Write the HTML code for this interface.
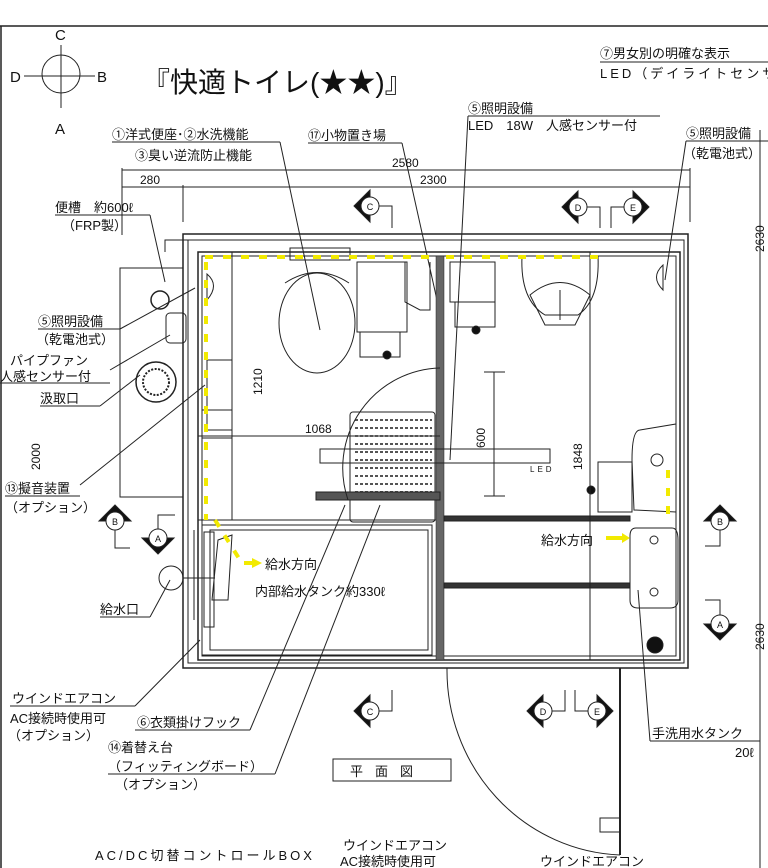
<!DOCTYPE html>
<html><head><meta charset="utf-8"><style>
html,body{margin:0;padding:0;background:#fff;}
svg{display:block;}
text{font-family:"Liberation Sans","Noto Sans CJK JP",sans-serif;fill:#111;}
</style></head><body>
<svg width="768" height="868" viewBox="0 0 768 868" xmlns="http://www.w3.org/2000/svg">
<g stroke="#222" fill="none" stroke-width="1">
<line x1="0" y1="26" x2="768" y2="26" stroke-width="1.5"/>
<line x1="1" y1="26" x2="1" y2="868" stroke-width="1.5"/>
<circle cx="61" cy="74" r="19"/>
<line x1="61" y1="45" x2="61" y2="108"/>
<line x1="24" y1="76" x2="95" y2="76"/>
<line x1="122" y1="170" x2="690" y2="170"/>
<line x1="122" y1="187" x2="690" y2="187"/>
<line x1="122" y1="168" x2="122" y2="235"/>
<line x1="183" y1="185" x2="183" y2="222"/>
<line x1="690" y1="168" x2="690" y2="222"/>
<line x1="760" y1="130" x2="760" y2="868"/>
<line x1="600" y1="62" x2="768" y2="62"/>
<line x1="468" y1="116" x2="660" y2="116"/>
<line x1="112" y1="142" x2="280" y2="142"/>
<line x1="308" y1="143" x2="402" y2="143"/>
<line x1="686" y1="141" x2="768" y2="141"/>
<line x1="55" y1="215" x2="150" y2="215"/>
<line x1="38" y1="329" x2="120" y2="329"/>
<line x1="0" y1="383" x2="110" y2="383"/>
<line x1="40" y1="406" x2="100" y2="406"/>
<line x1="5" y1="496" x2="80" y2="496"/>
<line x1="100" y1="617" x2="150" y2="617"/>
<line x1="10" y1="706" x2="135" y2="706"/>
<line x1="135" y1="730" x2="250" y2="730"/>
<line x1="108" y1="774" x2="275" y2="774"/>
<line x1="650" y1="741" x2="760" y2="741"/>
<line x1="280" y1="142" x2="320" y2="330"/>
<line x1="402" y1="143" x2="437" y2="300"/>
<line x1="468" y1="116" x2="450" y2="460"/>
<line x1="686" y1="141" x2="665" y2="280"/>
<line x1="150" y1="215" x2="165" y2="282"/>
<line x1="120" y1="329" x2="195" y2="288"/>
<line x1="110" y1="370" x2="170" y2="335"/>
<line x1="100" y1="406" x2="140" y2="375"/>
<line x1="80" y1="485" x2="205" y2="385"/>
<line x1="150" y1="617" x2="170" y2="580"/>
<line x1="135" y1="706" x2="200" y2="640"/>
<line x1="250" y1="730" x2="345" y2="505"/>
<line x1="275" y1="774" x2="380" y2="505"/>
<line x1="650" y1="741" x2="638" y2="590"/>
<rect x="120" y="268" width="63" height="229"/>
<circle cx="160" cy="300" r="9" stroke-width="1.5"/>
<circle cx="156" cy="382" r="20" stroke-width="1.5"/>
<circle cx="156" cy="382" r="13" stroke-dasharray="2 1.5" stroke-width="2"/>
<rect x="166" y="313" width="20" height="30" rx="4"/>
<polyline points="165,252 165,240 190,240"/>
<rect x="183" y="234" width="505" height="434" stroke-width="1.5"/>
<rect x="188" y="240" width="496" height="423"/>
<rect x="198" y="252" width="482" height="408" stroke-width="1.5"/>
<rect x="202" y="256" width="474" height="400"/>
<rect x="436" y="256" width="8" height="404" fill="#666" stroke-width="0.5"/>
<line x1="198" y1="520" x2="436" y2="520"/>
<rect x="444" y="516" width="186" height="5" fill="#333"/>
<rect x="444" y="583" width="186" height="5" fill="#333"/>
<rect x="202" y="525" width="230" height="130"/>
<rect x="210" y="530" width="218" height="120"/>
<path d="M218 540 L232 535 L228 600 L212 600 Z" />
<rect x="204" y="532" width="10" height="95"/>
<rect x="290" y="248" width="60" height="12"/>
<ellipse cx="317" cy="323" rx="38" ry="50"/>
<path d="M285 283 Q317 262 349 283"/>
<rect x="357" y="262" width="50" height="70"/>
<rect x="360" y="332" width="40" height="25"/>
<circle cx="387" cy="355" r="4" fill="#111"/>
<path d="M405 262 L405 302 L420 310 L430 310 L430 262"/>
<rect x="450" y="262" width="45" height="40"/>
<rect x="455" y="302" width="40" height="25"/>
<circle cx="476" cy="330" r="4" fill="#111"/>
<path d="M522 256 Q520 300 545 315 L578 315 Q600 300 598 256"/>
<path d="M530 295 Q560 270 590 295 L575 325 L545 325 Z"/>
<line x1="560" y1="290" x2="560" y2="320"/>
<path d="M663 265 Q650 277 663 290 Z"/>
<path d="M207 274 Q220 285 207 300 Z"/>
<rect x="207" y="360" width="25" height="70"/>
<rect x="202" y="410" width="30" height="28"/>
<path d="M640 430 Q632 430 632 460 L634 510 L676 512 L676 424 Z"/>
<circle cx="657" cy="460" r="6"/>
<rect x="598" y="462" width="34" height="50"/>
<circle cx="591" cy="490" r="4" fill="#111"/>
<path d="M636 528 L672 528 Q678 528 678 540 L678 600 Q678 608 670 608 L638 608 Q630 608 630 600 L630 536 Q630 528 636 528 Z"/>
<circle cx="654" cy="540" r="4"/>
<circle cx="654" cy="592" r="4"/>
<circle cx="655" cy="645" r="8" fill="#111"/>
<line x1="232" y1="252" x2="232" y2="520"/>
<line x1="198" y1="436" x2="440" y2="436"/>
<line x1="494" y1="372" x2="494" y2="496"/>
<line x1="484" y1="372" x2="505" y2="372"/>
<line x1="484" y1="496" x2="505" y2="496"/>
<line x1="590" y1="252" x2="590" y2="660"/>
<rect x="350" y="412" width="85" height="110" rx="3"/>
<g stroke-dasharray="3 2" stroke-width="2" stroke="#555">
<line x1="355" y1="420" x2="432" y2="420"/><line x1="355" y1="428" x2="432" y2="428"/><line x1="355" y1="436" x2="432" y2="436"/><line x1="355" y1="444" x2="432" y2="444"/><line x1="355" y1="452" x2="432" y2="452"/><line x1="355" y1="460" x2="432" y2="460"/><line x1="355" y1="468" x2="432" y2="468"/><line x1="355" y1="476" x2="432" y2="476"/><line x1="355" y1="484" x2="432" y2="484"/><line x1="355" y1="492" x2="432" y2="492"/>
</g>
<rect x="320" y="449" width="230" height="14"/>
<rect x="316" y="492" width="124" height="8" fill="#555"/>
<path d="M440 368 A100 100 0 0 0 348 500"/>
<path d="M447 668 A180 185 0 0 0 620 855"/>
<line x1="620" y1="668" x2="620" y2="855" stroke-width="2"/>
<rect x="600" y="818" width="20" height="14"/>
<circle cx="171" cy="578" r="12"/>
<line x1="183" y1="578" x2="215" y2="578"/>
<line x1="194" y1="530" x2="194" y2="620"/>
</g>
<g stroke="#f2ea00" stroke-width="4" stroke-dasharray="8 10" fill="none">
<line x1="205" y1="257" x2="436" y2="257"/>
<line x1="446" y1="257" x2="600" y2="257"/>
<line x1="206" y1="262" x2="206" y2="520"/>
<line x1="215" y1="520" x2="240" y2="560"/>
<line x1="668" y1="470" x2="668" y2="515"/>
</g>
<g fill="#f2ea00">
<polygon points="262,563 252,558 252,561 244,561 244,565 252,565 252,568"/>
<polygon points="630,538 622,533 622,536 606,536 606,540 622,540 622,543"/>
</g>
<g fill="#111" stroke="#222">
<polygon points="354,206 370,190 370,222"/><circle cx="370" cy="206" r="9" fill="#fff"/>
<polygon points="562,207 578,191 578,223"/><circle cx="578" cy="207" r="9" fill="#fff"/>
<polygon points="649,207 633,191 633,223"/><circle cx="633" cy="207" r="9" fill="#fff"/>
<polygon points="354,711 370,695 370,727"/><circle cx="370" cy="711" r="9" fill="#fff"/>
<polygon points="527,711 543,695 543,727"/><circle cx="543" cy="711" r="9" fill="#fff"/>
<polygon points="613,711 597,695 597,727"/><circle cx="597" cy="711" r="9" fill="#fff"/>
<polygon points="115,505 99,521 131,521"/><circle cx="115" cy="521" r="9" fill="#fff"/>
<polygon points="720,505 704,521 736,521"/><circle cx="720" cy="521" r="9" fill="#fff"/>
<polygon points="158,554 142,538 174,538"/><circle cx="158" cy="538" r="9" fill="#fff"/>
<polygon points="720,640 704,624 736,624"/><circle cx="720" cy="624" r="9" fill="#fff"/>
</g>
<g stroke="#222" fill="none">
<polyline points="379,206 392,206 392,228"/>
<polyline points="587,207 600,207 600,228"/>
<polyline points="624,207 611,207 611,228"/>
<polyline points="379,711 392,711 392,690"/>
<polyline points="552,711 565,711 565,690"/>
<polyline points="588,711 575,711 575,690"/>
<polyline points="115,530 115,548 130,548"/>
<polyline points="158,529 158,515 175,515"/>
<polyline points="720,530 720,546 705,546"/>
<polyline points="720,615 720,600 705,600"/>
<rect x="333" y="759" width="118" height="22"/>
</g>
<g font-size="9" text-anchor="middle">
<text x="370" y="210">C</text><text x="578" y="211">D</text><text x="633" y="211">E</text>
<text x="370" y="715">C</text><text x="543" y="715">D</text><text x="597" y="715">E</text>
<text x="115" y="525">B</text><text x="720" y="525">B</text><text x="158" y="542">A</text><text x="720" y="628">A</text>
</g>
<g font-size="15">
<text x="55" y="40">C</text><text x="55" y="134">A</text><text x="10" y="82">D</text><text x="97" y="82">B</text>
</g>
<text x="142" y="92" font-size="28">『快適トイレ(★★)』</text>
<g font-size="13">
<text x="600" y="58">⑦男女別の明確な表示</text>
<text x="600" y="78" letter-spacing="3">LED（デイライトセンサー</text>
<text x="468" y="113">⑤照明設備</text>
<text x="468" y="130">LED　18W　人感センサー付</text>
<text x="112" y="139">①洋式便座･②水洗機能</text>
<text x="135" y="160">③臭い逆流防止機能</text>
<text x="308" y="140">⑰小物置き場</text>
<text x="686" y="138">⑤照明設備</text>
<text x="683" y="158">（乾電池式）</text>
<text x="55" y="212">便槽　約600ℓ</text>
<text x="62" y="230">（FRP製）</text>
<text x="38" y="326">⑤照明設備</text>
<text x="36" y="344">（乾電池式）</text>
<text x="10" y="365">パイプファン</text>
<text x="0" y="381">人感センサー付</text>
<text x="40" y="403">汲取口</text>
<text x="5" y="493">⑬擬音装置</text>
<text x="5" y="512">（オプション）</text>
<text x="100" y="614">給水口</text>
<text x="265" y="569">給水方向</text>
<text x="255" y="596">内部給水タンク約330ℓ</text>
<text x="541" y="545">給水方向</text>
<text x="12" y="703">ウインドエアコン</text>
<text x="10" y="723">AC接続時使用可</text>
<text x="8" y="740">（オプション）</text>
<text x="137" y="727">⑥衣類掛けフック</text>
<text x="108" y="752">⑭着替え台</text>
<text x="108" y="771">（フィッティングボード）</text>
<text x="115" y="789">（オプション）</text>
<text x="652" y="738">手洗用水タンク</text>
<text x="735" y="757">20ℓ</text>
<text x="350" y="776" letter-spacing="12">平面図</text>
<text x="95" y="860" letter-spacing="3" fill="#444">AC/DC切替コントロールBOX</text>
<text x="343" y="850">ウインドエアコン</text>
<text x="340" y="866">AC接続時使用可</text>
<text x="540" y="866">ウインドエアコン</text>
</g>
<g font-size="12" fill="#333">
<text x="392" y="167">2580</text>
<text x="140" y="184">280</text>
<text x="420" y="184">2300</text>
<text x="305" y="433">1068</text>
<text x="530" y="472" font-size="8" letter-spacing="3">LED</text>
<text transform="translate(764,252) rotate(-90)">2630</text>
<text transform="translate(764,650) rotate(-90)">2630</text>
<text transform="translate(262,395) rotate(-90)">1210</text>
<text transform="translate(485,448) rotate(-90)">600</text>
<text transform="translate(582,470) rotate(-90)">1848</text>
<text transform="translate(40,470) rotate(-90)">2000</text>
</g>
</svg>
</body></html>
